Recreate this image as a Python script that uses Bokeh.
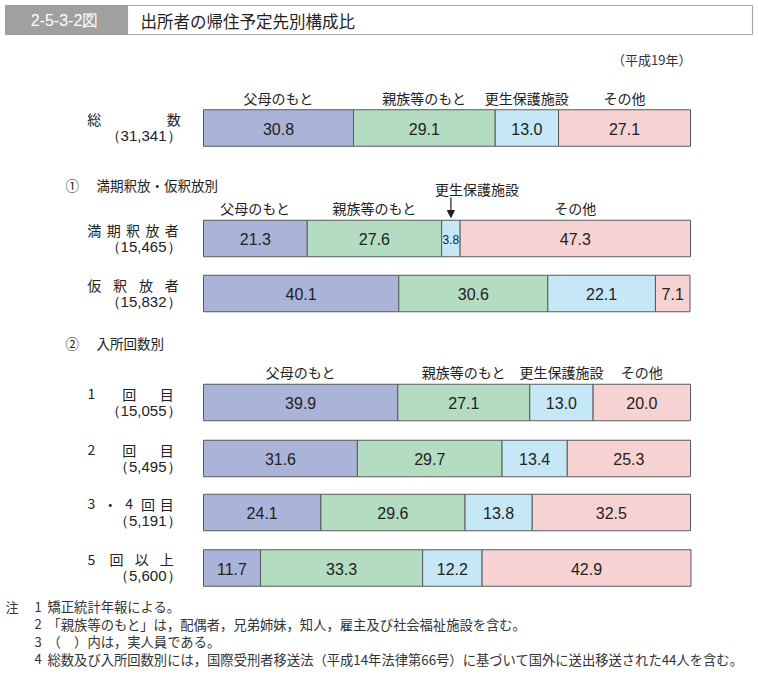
from bokeh.plotting import figure
from bokeh.models import ColumnDataSource, Range1d, Arrow, NormalHead
from bokeh.core.properties import value
from bokeh.embed import file_html
from bokeh.resources import INLINE

# ---------------- data ----------------
title_no = "2-5-3-2図"
title_text = "出所者の帰住予定先別構成比"
year_note = "（平成19年）"
categories = ["父母のもと", "親族等のもと", "更生保護施設", "その他"]
row_names = ["総数", "満期釈放者", "仮釈放者", "1回目", "2回目", "3・4回目", "5回以上"]
row_counts = [31341, 15465, 15832, 15055, 5495, 5191, 5600]
parents = [30.8, 21.3, 40.1, 39.9, 31.6, 24.1, 11.7]
relatives = [29.1, 27.6, 30.6, 27.1, 29.7, 29.6, 33.3]
rehab = [13.0, 3.8, 22.1, 13.0, 13.4, 13.8, 12.2]
other = [27.1, 47.3, 7.1, 20.0, 25.3, 32.5, 42.9]
section_marks = ["①", "②"]
section_titles = ["満期釈放・仮釈放別", "入所回数別"]
note_head = "注"
note_nums = ["1", "2", "3", "4"]
note_texts = [
    "矯正統計年報による。",
    "「親族等のもと」は，配偶者，兄弟姉妹，知人，雇主及び社会福祉施設を含む。",
    "（　）内は，実人員である。",
    "総数及び入所回数別には，国際受刑者移送法（平成14年法律第66号）に基づいて国外に送出移送された44人を含む。",
]

# ---------------- layout ----------------
W, H = 756, 676
X0 = 203.0          # screen px of 0 %
SC = 4.87           # px per %
def px(sx):
    return (sx - X0) / SC

row_y = [127.5, 238, 293, 402, 458, 512, 567.5]
bar_h = 36.5
group_first_row = [0, 1, 3]
group_label_y = [97, 207, 371]
section_y = [184, 342]
row_name_right = [180, 178, 178, 173, 173, 173, 173]

COLORS = ["#aab4d9", "#b3dcc0", "#c6e7f6", "#f7d2d2"]
EDGE = "#5a5a5a"
CJK = "Noto Sans CJK JP"
NUM = "Liberation Sans"

p = figure(width=W, height=H, output_backend="svg", toolbar_location=None,
           x_range=Range1d(px(0), px(W)), y_range=Range1d(H, 0),
           min_border=0, outline_line_color=None)
p.axis.visible = False
p.grid.visible = False
p.background_fill_color = "white"
p.border_fill_color = "white"

# ---------------- title ----------------
p.quad(left=[px(127)], right=[px(752)], top=[5], bottom=[34],
       fill_color="white", line_color="#a8a8a8", line_width=1.2)
p.quad(left=[px(5)], right=[px(127)], top=[5], bottom=[34],
       fill_color="#a0a0a0", line_color="#a0a0a0")
p.text(x=[px(64)], y=[20], text=[title_no], text_font=value(NUM),
       text_font_size="16px", text_color="white", text_align="center",
       text_baseline="middle")
p.text(x=[px(140)], y=[20], text=[title_text], text_font=value(CJK),
       text_font_size="16.5px", text_color="#222", text_align="left",
       text_baseline="middle")
p.text(x=[px(691)], y=[59], text=[year_note], text_font=value(CJK),
       text_font_size="13px", text_color="#333", text_align="right",
       text_baseline="middle")

# ---------------- bars ----------------
series = [parents, relatives, rehab, other]
lefts = [[0.0] * len(row_y)]
for s in series[:-1]:
    lefts.append([l + v for l, v in zip(lefts[-1], s)])
for k, s in enumerate(series):
    src = ColumnDataSource(dict(
        y=row_y,
        left=lefts[k],
        right=[l + v for l, v in zip(lefts[k], s)],
        mid=[l + v / 2 for l, v in zip(lefts[k], s)],
        lab=[f"{v:.1f}" for v in s],
        fs=["12px" if v < 5 else "16px" for v in s],
        ty=[y + 0.5 for y in row_y],
    ))
    p.hbar(y="y", left="left", right="right", height=bar_h, source=src,
           fill_color=COLORS[k], line_color=EDGE, line_width=1)
    p.text(x="mid", y="ty", text="lab", source=src, text_font=value(NUM),
           text_font_size="fs", text_color="#222", text_align="center",
           text_baseline="middle")

# ---------------- category labels ----------------
for g, r in enumerate(group_first_row):
    xs, ys, ts = [], [], []
    for k, s in enumerate(series):
        mid = lefts[k][r] + s[r] / 2
        if g == 1 and k == 2:
            # label raised with an arrow pointing to the narrow segment
            p.add_layout(Arrow(end=NormalHead(size=7, fill_color="#222", line_color="#222"),
                               x_start=mid, y_start=197, x_end=mid, y_end=217,
                               line_color="#222", line_width=1.2))
            xs.append(mid + px(476) - px(450))
            ys.append(188)
        else:
            xs.append(mid)
            ys.append(group_label_y[g])
        ts.append(categories[k])
    p.text(x=xs, y=ys, text=ts, text_font=value(CJK), text_font_size="14px",
           text_color="#222", text_align="center", text_baseline="middle")

# ---------------- row labels ----------------
def char_w(c):
    return 8 if c.isascii() else 13.5

cx, cy, ct = [], [], []
for i, name in enumerate(row_names):
    chars = list(name)
    first = 87 + char_w(chars[0]) / 2
    last = row_name_right[i] - char_w(chars[-1]) / 2
    n = len(chars)
    for j, c in enumerate(chars):
        x = first + (last - first) * j / (n - 1)
        cx.append(px(x)); cy.append(row_y[i] - 9); ct.append(c)
p.text(x=cx, y=cy, text=ct, text_font=value(CJK), text_font_size="14px",
       text_color="#222", text_align="center", text_baseline="middle")
p.text(x=[px(181)] * len(row_y), y=[y + 7.5 for y in row_y],
       text=[f"（{c:,}）" for c in row_counts], text_font=value(NUM),
       text_font_size="15px", text_color="#222", text_align="right",
       text_baseline="middle")

# ---------------- section titles ----------------
p.text(x=[px(65)] * 2, y=section_y, text=section_marks, text_font=value(CJK),
       text_font_size="13.5px", text_color="#222", text_align="left",
       text_baseline="middle")
p.text(x=[px(96)] * 2, y=section_y, text=section_titles, text_font=value(CJK),
       text_font_size="13.5px", text_color="#222", text_align="left",
       text_baseline="middle")

# ---------------- notes ----------------
note_y = [606, 623.5, 641, 658.5]
p.text(x=[px(5)], y=[note_y[0]], text=[note_head], text_font=value(CJK),
       text_font_size="13px", text_color="#333", text_align="left",
       text_baseline="middle")
p.text(x=[px(34)] * 4, y=note_y, text=note_nums, text_font=value(CJK),
       text_font_size="13px", text_color="#333", text_align="left",
       text_baseline="middle")
p.text(x=[px(47)] * 4, y=note_y, text=note_texts, text_font=value(CJK),
       text_font_size="13.3px", text_color="#333", text_align="left",
       text_baseline="middle")

open("out.html", "w").write(file_html(p, INLINE))
